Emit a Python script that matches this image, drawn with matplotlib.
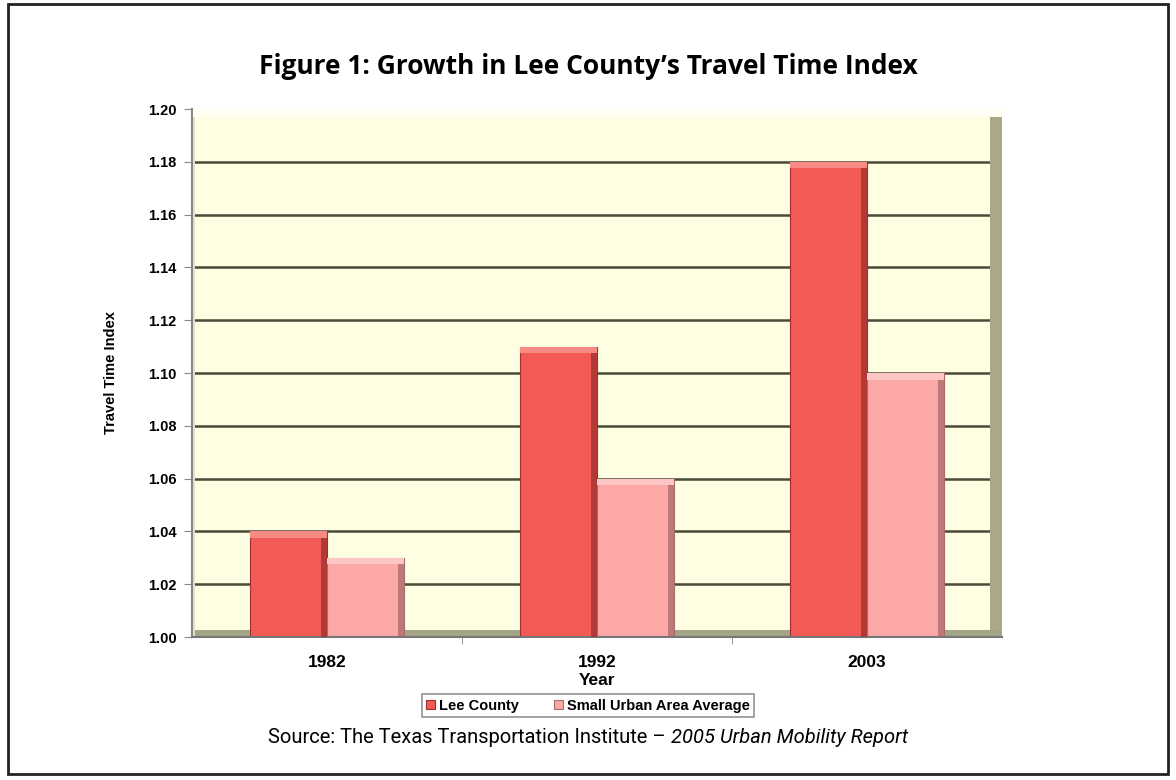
import matplotlib.pyplot as plt
import numpy as np
from matplotlib.patches import Rectangle

years = ['1982', '1992', '2003']
lee_county = [1.04, 1.11, 1.18]
small_urban = [1.03, 1.06, 1.10]
y_ticks = [1.00, 1.02, 1.04, 1.06, 1.08, 1.10, 1.12, 1.14, 1.16, 1.18, 1.20]

lee_color = '#F25A55'
lee_dark = '#9E2F2C'
lee_light = '#F88A84'
small_color = '#FBA8A6'
small_dark = '#A86A6A'
small_light = '#FDC6C4'

fig = plt.figure(figsize=(11.76, 7.8), dpi=100)
fig.patches.append(Rectangle((0.007, 0.008), 0.986, 0.987, transform=fig.transFigure,
                             fill=False, edgecolor='#222222', linewidth=2))

ax = fig.add_axes([0.1633, 0.1833, 0.6888, 0.6769])
ax.set_facecolor('#FEFEE2')

x = np.arange(len(years))
w = 0.285
bevel = 0.022

# gridlines
for t in y_ticks[1:-1]:
    ax.axhline(t, color='#4A4A3A', linewidth=1.8, zorder=1)

# 3d walls
ax.axvspan(2.455, 2.5, color='#A9A98A', zorder=1.5, linewidth=0)
ax.axhspan(1.0, 1.0025, color='#A4A486', zorder=1.5, linewidth=0)
ax.axvspan(-0.5, -0.49, color='#E4E4C4', zorder=1.5, linewidth=0)
ax.axhspan(1.197, 1.2, color='#FFFFF4', zorder=1.5, linewidth=0)

for vals, off, c, dk, lt, lab in [(lee_county, -w / 2, lee_color, lee_dark, lee_light, 'Lee County'),
                                  (small_urban, w / 2, small_color, small_dark, small_light,
                                   'Small Urban Area Average')]:
    vals = np.array(vals)
    ax.bar(x + off, vals - 1.0, w, bottom=1.0, color=c, zorder=2, label=lab,
           edgecolor=dk, linewidth=0.8)
    # right-side shading
    ax.bar(x + off + w / 2 - bevel / 2, vals - 1.0, bevel, bottom=1.0, color=dk,
           alpha=0.75, zorder=3, linewidth=0)
    # top cap
    ax.bar(x + off, 0.0025, w, bottom=vals - 0.0025, color=lt, zorder=3, linewidth=0)

ax.set_xlim(-0.5, 2.5)
ax.set_ylim(1.0, 1.2)
ax.set_yticks(y_ticks)
ax.set_yticklabels(['%.2f' % t for t in y_ticks], fontsize=10.5, fontweight='bold',
                   family='Liberation Sans')
ax.set_xticks(x)
ax.set_xticklabels(years, fontsize=12.5, fontweight='bold', family='Liberation Sans')
ax.set_xticks([0.5, 1.5], minor=True)
ax.tick_params(axis='x', which='major', length=0, pad=13)
ax.tick_params(axis='x', which='minor', length=5, color='#888888', direction='out')
ax.tick_params(axis='y', length=6, color='#888888', direction='out', pad=5)

for s in ['top', 'right']:
    ax.spines[s].set_visible(False)
ax.spines['left'].set_color('#888888')
ax.spines['left'].set_linewidth(1.5)
ax.spines['bottom'].set_color('#777777')
ax.spines['bottom'].set_linewidth(1.5)

ax.set_xlabel('Year', fontsize=12.5, fontweight='bold', family='Liberation Sans', labelpad=2)
ax.set_ylabel('Travel Time Index', fontsize=10.5, fontweight='bold', family='Liberation Sans',
              labelpad=22)

handles, labels = ax.get_legend_handles_labels()
leg = fig.legend(handles[:2], labels[:2], loc='center', bbox_to_anchor=(0.5, 0.0955), ncol=2,
                 prop={'family': 'Liberation Sans', 'weight': 'bold', 'size': 10.5},
                 frameon=True, fancybox=False, edgecolor='#777777', handlelength=0.6,
                 handleheight=0.6, handletextpad=0.3, columnspacing=2.4,
                 borderpad=0.3, borderaxespad=0)
leg.get_frame().set_linewidth(1.2)

fig.text(0.5, 0.915, 'Figure 1: Growth in Lee County\u2019s Travel Time Index', ha='center',
         va='center', fontsize=19, fontweight='bold', family='Open Sans')

src1 = 'Source: The Texas Transportation Institute \u2013 '
src2 = '2005 Urban Mobility Report'
t1 = fig.text(0.5, 0.054, src1, ha='right', va='center', fontsize=14.5, family='Roboto')
t2 = fig.text(0.5, 0.054, src2, ha='left', va='center', fontsize=14.5, style='italic',
              family='Roboto')
fig.canvas.draw()
r = fig.canvas.get_renderer()
w1 = t1.get_window_extent(r).width / fig.bbox.width
w2 = t2.get_window_extent(r).width / fig.bbox.width
start = 0.5 - (w1 + w2) / 2
t1.set_ha('left')
t1.set_x(start)
t2.set_x(start + w1)

fig.savefig('out.png', dpi=100)
